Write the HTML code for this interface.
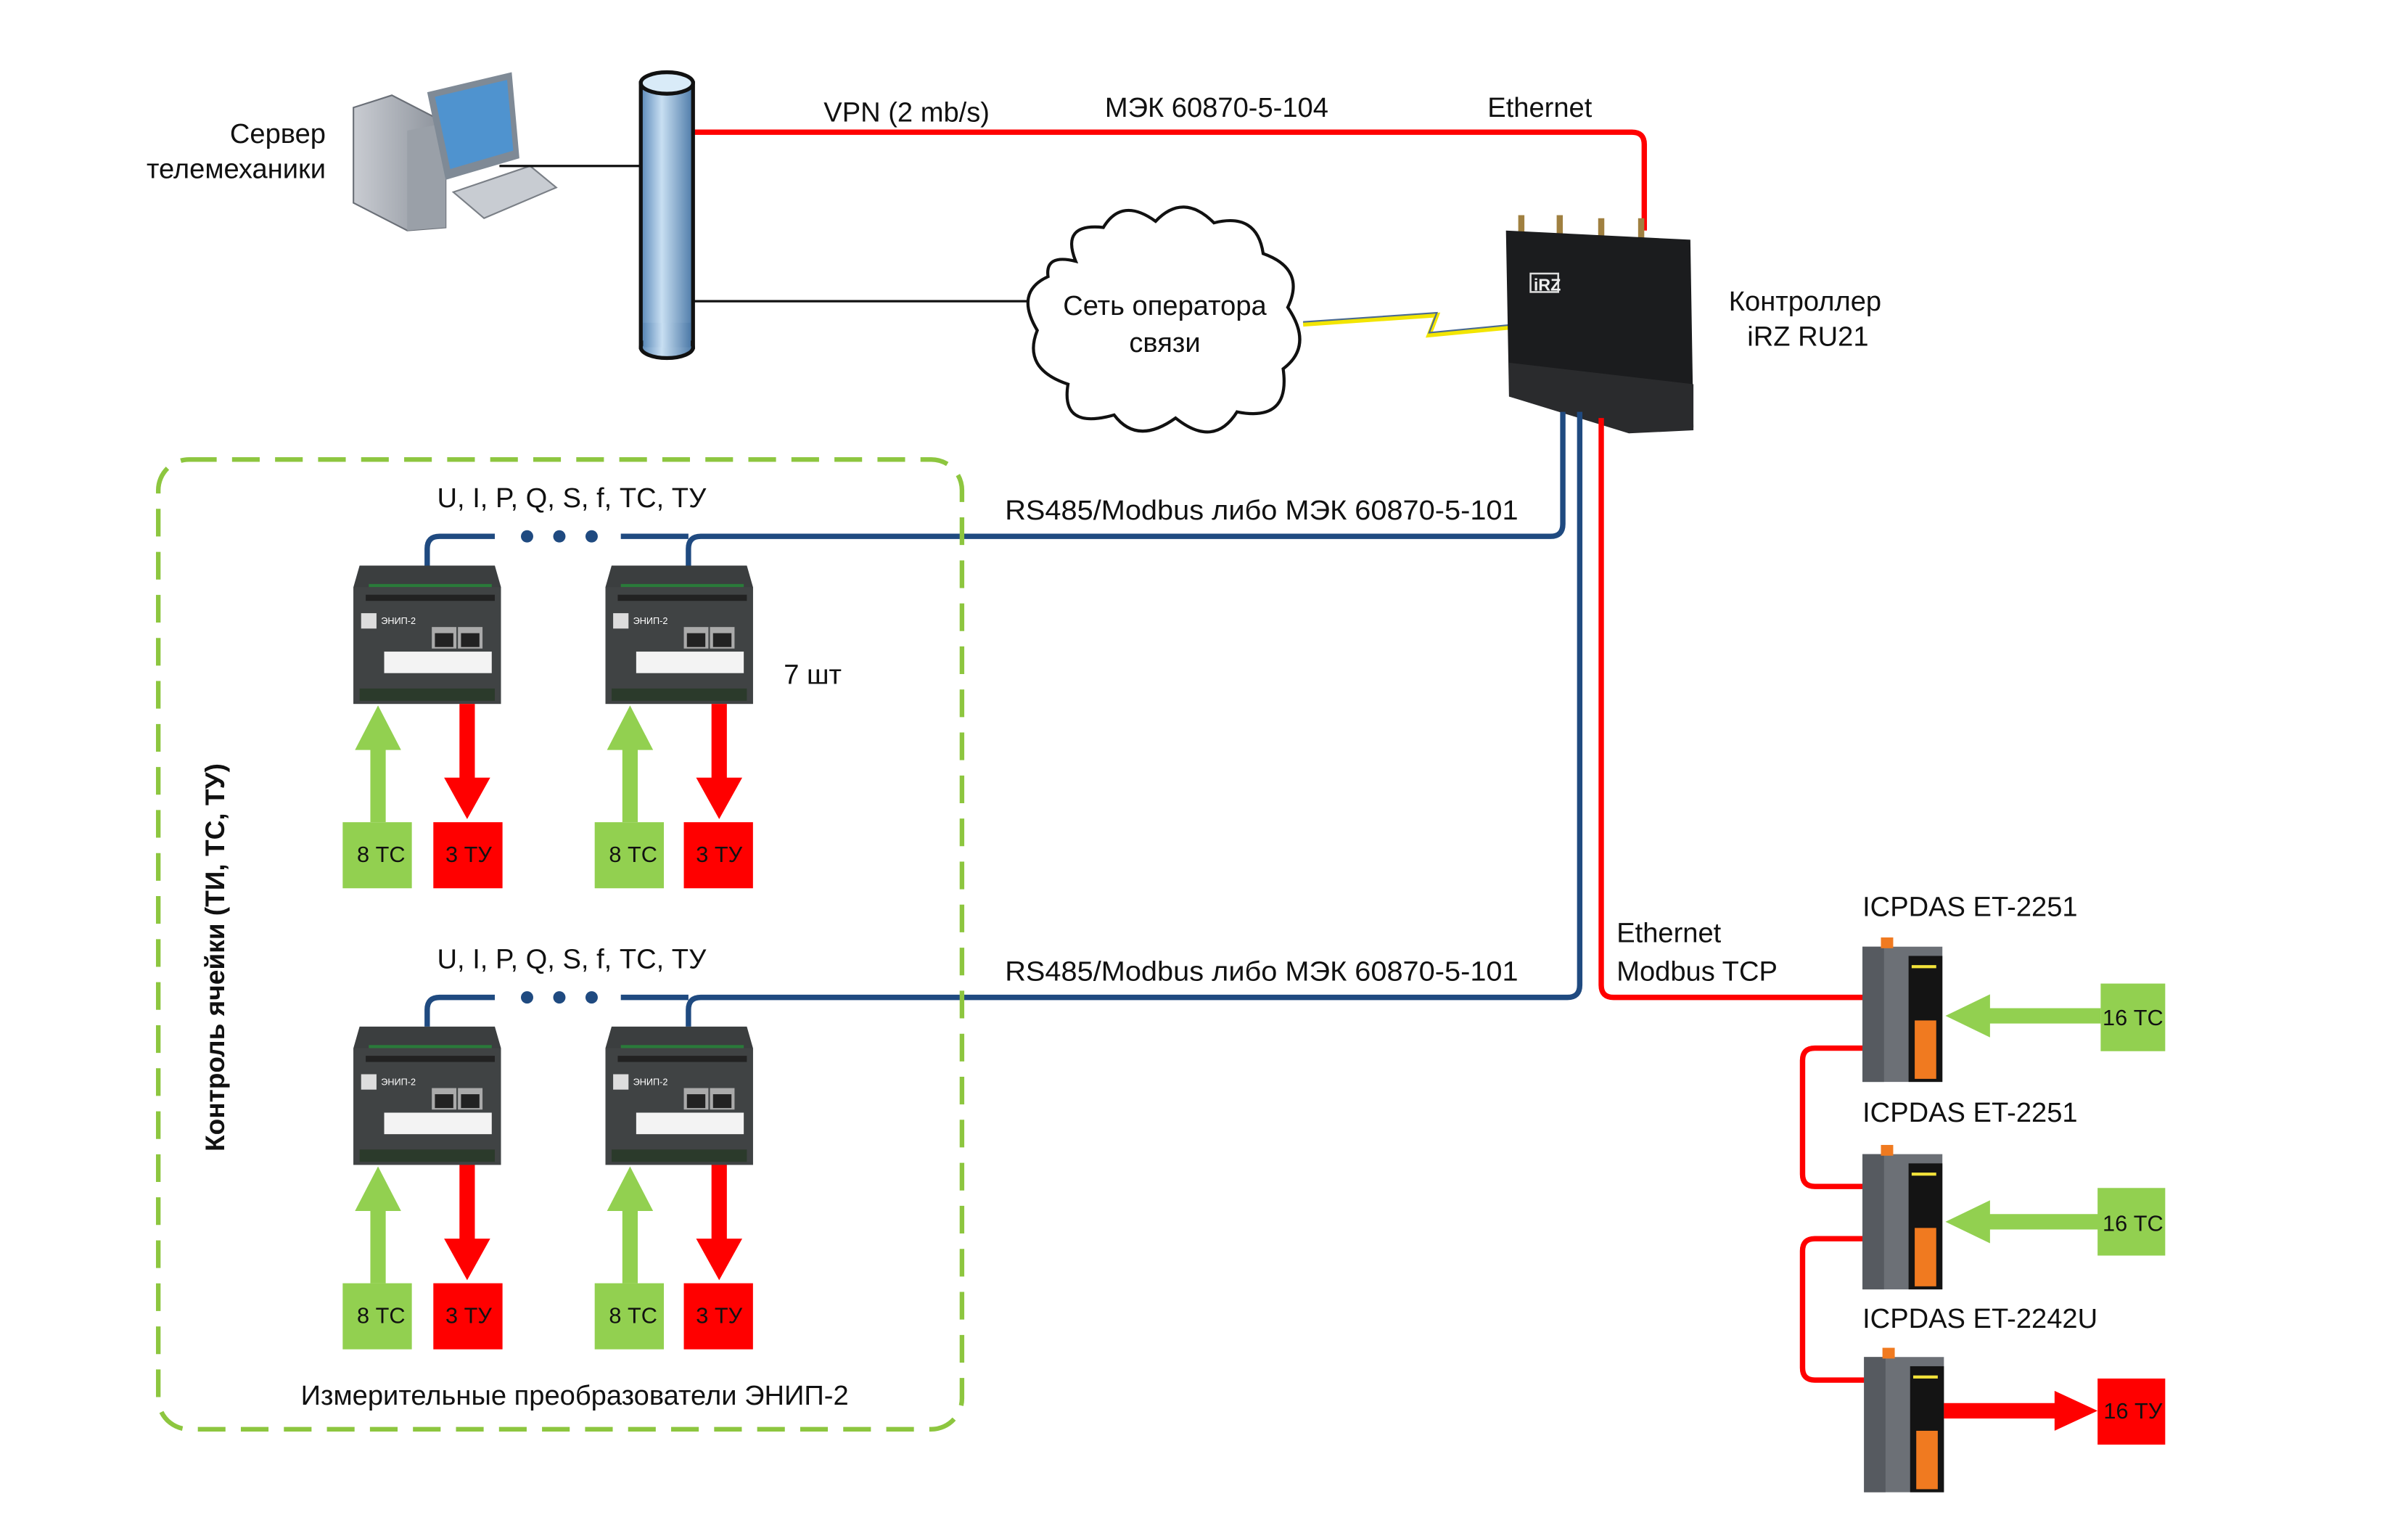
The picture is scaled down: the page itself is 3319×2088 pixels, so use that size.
<!DOCTYPE html>
<html><head><meta charset="utf-8"><style>
html,body{margin:0;padding:0;background:#fff;width:3319px;height:2088px;overflow:hidden}
svg{display:block}
text{font-family:"Liberation Sans","DejaVu Sans",sans-serif;font-size:18px;fill:#111}
</style></head><body>
<svg width="3319" height="2088" viewBox="0 0 1567 985.8" preserveAspectRatio="none" xmlns="http://www.w3.org/2000/svg">
<defs>
<linearGradient id="pipe" x1="0" x2="1"><stop offset="0" stop-color="#5a88b8"/><stop offset=".4" stop-color="#c8dff2"/><stop offset="1" stop-color="#4d7aa8"/></linearGradient>
<linearGradient id="tow" x1="0" x2="1"><stop offset="0" stop-color="#c9ccd2"/><stop offset="1" stop-color="#8a9099"/></linearGradient>
<g id="enip">
<path d="M4 0 L92 0 L96 14 L96 90 L0 90 L0 14 Z" fill="#3b3e3f"/>
<rect x="0" y="14" width="96" height="76" fill="#404344"/>
<rect x="10" y="12" width="80" height="2" fill="#2a7a3a"/>
<rect x="8" y="19" width="84" height="4" fill="#222"/>
<rect x="5" y="31" width="10" height="10" fill="#ddd"/>
<text x="18" y="38" style="font-size:6px;fill:#fff">ЭНИП-2</text>
<rect x="51" y="40" width="16" height="14" fill="#aaa"/><rect x="68" y="40" width="16" height="14" fill="#aaa"/>
<rect x="53" y="44" width="12" height="9" fill="#222"/><rect x="70" y="44" width="12" height="9" fill="#222"/>
<rect x="20" y="56" width="70" height="14" fill="#f3f3f3"/>
<rect x="4" y="80" width="88" height="8" fill="#2b3a2b"/>
</g>
<g id="icp">
<rect x="0" y="6" width="52" height="88" fill="#6c7076"/>
<rect x="0" y="6" width="14" height="88" fill="#565a60"/>
<rect x="30" y="12" width="22" height="82" fill="#141414"/>
<rect x="32" y="18" width="16" height="2" fill="#f2e23a"/>
<rect x="12" y="0" width="8" height="7" fill="#f07a20"/>
<rect x="34" y="54" width="14" height="38" fill="#f07a20"/>
</g>
</defs>

<polygon points="230,70 255,62 290,80 290,148 265,150 230,132" fill="url(#tow)" stroke="#6a6f77" stroke-width="1"/>
<polygon points="265,85 290,80 290,148 265,150" fill="#9aa0a8"/>
<polygon points="278,60 333,47 338,103 290,117" fill="#7f8a96"/>
<polygon points="283,63 330,52 334,98 293,110" fill="#4f93cf"/>
<polygon points="295,125 345,108 362,122 315,142" fill="#c8ccd2" stroke="#7a7f86" stroke-width="1"/>
<text x="212" y="93" text-anchor="end">Сервер</text>
<text x="212" y="116" text-anchor="end">телемеханики</text>

<line x1="325" y1="108" x2="416" y2="108" stroke="#111" stroke-width="1.5"/>
<line x1="451" y1="196" x2="672" y2="196" stroke="#111" stroke-width="1.5"/>
<path d="M451 86 H1062 Q1070 86 1070 94 V150" fill="none" stroke="#f00" stroke-width="3.5"/>

<rect x="417" y="54" width="34" height="172" fill="url(#pipe)" stroke="#111" stroke-width="2.5"/>
<ellipse cx="434" cy="226" rx="17" ry="7" fill="url(#pipe)" stroke="#111" stroke-width="2.5"/>
<rect x="418.5" y="210" width="31" height="16" fill="url(#pipe)"/>
<ellipse cx="434" cy="54" rx="17" ry="7" fill="#d9ebf8" stroke="#111" stroke-width="2.5"/>

<text x="536" y="79">VPN (2 mb/s)</text>
<text x="719" y="76">МЭК 60870-5-104</text>
<text x="968" y="76">Ethernet</text>

<path d="M700 170 Q690 145 718 148 Q730 128 752 144 Q770 125 790 145 Q818 138 822 165 Q850 175 838 200 Q855 225 835 240 Q840 275 805 268 Q790 292 765 272 Q740 290 725 270 Q690 280 695 250 Q665 240 675 215 Q660 190 682 180 Q680 165 700 170 Z" fill="#fff" stroke="#111" stroke-width="2"/>
<text x="758" y="205" text-anchor="middle">Сеть оператора</text>
<text x="758" y="229" text-anchor="middle">связи</text>

<polyline points="848,211 935,205 930,218 982,213" fill="none" stroke="#f2e500" stroke-width="3"/>
<polyline points="848,211 935,205 930,218 982,213" fill="none" stroke="#4a6a90" stroke-width="1" transform="translate(0,-1.5)"/>

<rect x="988" y="140" width="4" height="14" fill="#a08040"/><rect x="1013" y="140" width="4" height="14" fill="#a08040"/><rect x="1040" y="142" width="4" height="14" fill="#a08040"/><rect x="1066" y="142" width="4" height="14" fill="#a08040"/>
<path d="M980 150 L1100 156 L1102 278 L1060 280 L982 258 Z" fill="#1b1c1e"/>
<path d="M982 236 L1102 250 L1102 280 L1060 282 L982 258 Z" fill="#2a2b2d"/>
<rect x="996" y="178" width="18" height="12" fill="none" stroke="#ddd" stroke-width="1.2"/>
<text x="998" y="189" style="font-size:11px;fill:#eee;font-weight:bold">iRZ</text>
<text x="1125" y="202">Контроллер</text>
<text x="1137" y="225">iRZ RU21</text>

<path d="M1017 268 V341 Q1017 349 1009 349 H456 Q448 349 448 357 V368" fill="none" stroke="#1f4a80" stroke-width="3.5"/>
<path d="M1028 268 V641 Q1028 649 1020 649 H456 Q448 649 448 657 V668" fill="none" stroke="#1f4a80" stroke-width="3.5"/>
<path d="M1042 272 V641 Q1042 649 1050 649 H1214" fill="none" stroke="#f00" stroke-width="3.5"/>
<g fill="none" stroke="#1f4a80" stroke-width="3.5">
<path d="M278 368 V357 Q278 349 286 349 H322"/>
<path d="M278 668 V657 Q278 649 286 649 H322"/>
<path d="M404 349 H448"/><path d="M404 649 H448"/>
</g>
<g fill="#1f4a80"><circle cx="343" cy="349" r="4"/><circle cx="364" cy="349" r="4"/><circle cx="385" cy="349" r="4"/>
<circle cx="343" cy="649" r="4"/><circle cx="364" cy="649" r="4"/><circle cx="385" cy="649" r="4"/></g>

<rect x="103" y="299" width="523" height="631" rx="20" fill="none" stroke="#8dc63f" stroke-width="3" stroke-dasharray="18,10"/>
<text transform="translate(146,623) rotate(-90)" text-anchor="middle" style="font-weight:bold;font-size:17.5px">Контроль ячейки (ТИ, ТС, ТУ)</text>

<text x="372" y="330" text-anchor="middle">U, I, P, Q, S, f, ТС, ТУ</text>
<text x="372" y="630" text-anchor="middle">U, I, P, Q, S, f, ТС, ТУ</text>
<text x="654" y="338" textLength="334" lengthAdjust="spacingAndGlyphs">RS485/Modbus либо МЭК 60870-5-101</text>
<text x="654" y="638" textLength="334" lengthAdjust="spacingAndGlyphs">RS485/Modbus либо МЭК 60870-5-101</text>
<text x="510" y="445">7 шт</text>
<text x="374" y="914" text-anchor="middle">Измерительные преобразователи ЭНИП-2</text>

<g id="cell">
<use href="#enip" x="230" y="368"/>
<use href="#enip" x="394" y="368"/>
<polygon points="241,535 241,488 231,488 246,459 261,488 251,488 251,535" fill="#92d050"/>
<polygon points="299,458 309,458 309,506 319,506 304,533 289,506 299,506" fill="#f00"/>
<polygon points="405,535 405,488 395,488 410,459 425,488 415,488 415,535" fill="#92d050"/>
<polygon points="463,458 473,458 473,506 483,506 468,533 453,506 463,506" fill="#f00"/>
<rect x="223" y="535" width="45" height="43" fill="#92d050"/>
<rect x="282" y="535" width="45" height="43" fill="#f00"/>
<rect x="387" y="535" width="45" height="43" fill="#92d050"/>
<rect x="445" y="535" width="45" height="43" fill="#f00"/>
<text x="248" y="561" text-anchor="middle" style="font-size:14.5px">8 ТС</text>
<text x="305" y="561" text-anchor="middle" style="font-size:14.5px">3 ТУ</text>
<text x="412" y="561" text-anchor="middle" style="font-size:14.5px">8 ТС</text>
<text x="468" y="561" text-anchor="middle" style="font-size:14.5px">3 ТУ</text>
</g>
<use href="#cell" y="300"/>

<text x="1212" y="596">ICPDAS ET-2251</text>
<text x="1212" y="730">ICPDAS ET-2251</text>
<text x="1212" y="864">ICPDAS ET-2242U</text>
<path d="M1214 682 H1181 Q1173 682 1173 690 V764 Q1173 772 1181 772 H1214" fill="none" stroke="#f00" stroke-width="3.5"/>
<path d="M1214 806 H1181 Q1173 806 1173 814 V890 Q1173 898 1181 898 H1214" fill="none" stroke="#f00" stroke-width="3.5"/>
<use href="#icp" x="1212" y="610"/>
<use href="#icp" x="1212" y="745"/>
<use href="#icp" x="1213" y="877"/>
<polygon points="1367,656 1295,656 1295,647 1266,661 1295,675 1295,666 1367,666" fill="#92d050"/>
<rect x="1367" y="640" width="42" height="44" fill="#92d050"/>
<text x="1388" y="667" text-anchor="middle" style="font-size:14.5px">16 ТС</text>
<polygon points="1367,790 1295,790 1295,781 1266,795 1295,809 1295,800 1367,800" fill="#92d050"/>
<rect x="1365" y="773" width="44" height="44" fill="#92d050"/>
<text x="1388" y="801" text-anchor="middle" style="font-size:14.5px">16 ТС</text>
<polygon points="1265,913 1337,913 1337,905 1365,918 1337,931 1337,923 1265,923" fill="#f00"/>
<rect x="1365" y="897" width="44" height="43" fill="#f00"/>
<text x="1388" y="923" text-anchor="middle" style="font-size:14.5px">16 ТУ</text>
<text x="1052" y="613">Ethernet</text>
<text x="1052" y="638">Modbus TCP</text>
</svg>
</body></html>
